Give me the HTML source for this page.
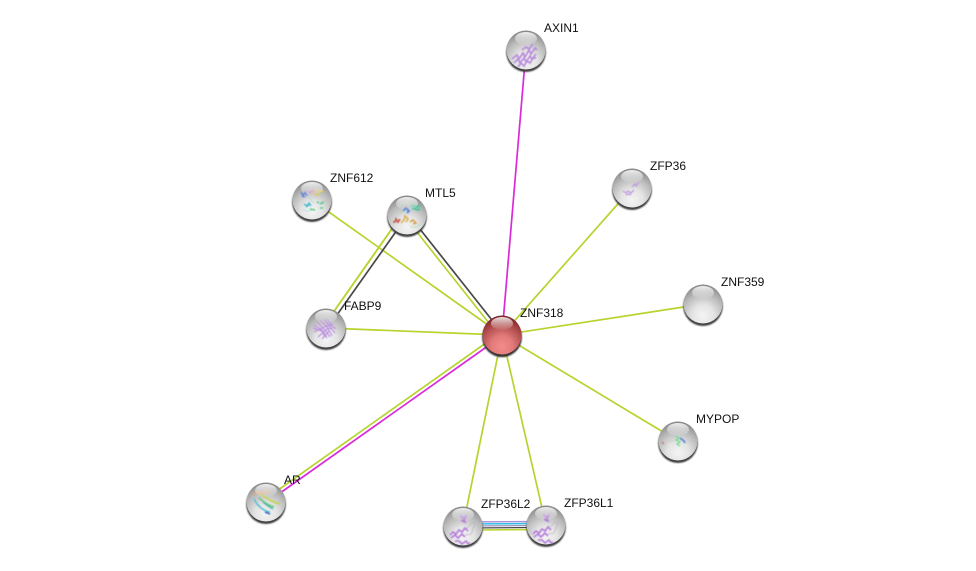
<!DOCTYPE html>
<html>
<head>
<meta charset="utf-8">
<style>
html,body{margin:0;padding:0;background:#fff;width:976px;height:571px;overflow:hidden}
svg{display:block}
text{font-family:"Liberation Sans",sans-serif;font-size:12px;fill:#111}
</style>
</head>
<body>
<svg width="976" height="571" viewBox="0 0 976 571" xmlns="http://www.w3.org/2000/svg">
<defs>
<radialGradient id="g" cx="50%" cy="80%" r="80%">
<stop offset="0" stop-color="#f4f4f4"/><stop offset=".35" stop-color="#e4e4e4"/><stop offset=".7" stop-color="#b8b8b8"/><stop offset="1" stop-color="#858585"/>
</radialGradient>
<radialGradient id="r" cx="50%" cy="80%" r="80%">
<stop offset="0" stop-color="#f58c8c"/><stop offset=".35" stop-color="#e27a7a"/><stop offset=".7" stop-color="#b04c4c"/><stop offset="1" stop-color="#7a1f24"/>
</radialGradient>
<linearGradient id="h" x1="0" y1="0" x2="0" y2="1">
<stop offset="0" stop-color="#fff" stop-opacity=".85"/><stop offset="1" stop-color="#fff" stop-opacity=".03"/>
</linearGradient>
<filter id="b" x="-30%" y="-30%" width="160%" height="160%"><feGaussianBlur stdDeviation=".9"/></filter>
<filter id="s" x="-20%" y="-20%" width="140%" height="140%"><feGaussianBlur stdDeviation=".5"/></filter>
<g id="node">
<circle cx="0" cy="2.2" r="19.8" fill="#3c3c3c" filter="url(#b)"/>
<circle cx="0" cy="0" r="19.5" fill="url(#g)"/>
</g>
<g id="hi"><ellipse cx="0" cy="-11.5" rx="11" ry="6.5" fill="url(#h)"/></g>
<g id="zfpl" filter="url(#s)" fill="none">
<path d="M-3 -11l3 3 3-2-2 4 1 2-3-1M-2 -6l3 1" stroke="#b47cdc" stroke-width="1.6"/>
<path d="M-13 9l3-3 3 2 3-4 3 2 3-4 3 3M-12 12l4-3 3 3 4-4 3 3M-8 15l4 0 3 3 4-3 2 3 2-1" stroke="#b47cdc" stroke-width="1.6"/>
<path d="M3 3c4-3 6-8 8-6 2 2-2 5-2 9-1 4-4 2-7 3" stroke="#b8aebc" stroke-width=".7"/>
</g>
</defs>

<g fill="none" stroke-width="1.7">
<line x1="526" y1="50" x2="502" y2="335" stroke="#d92ad9"/>
<line x1="632" y1="188" x2="502" y2="335" stroke="#b6d42e"/>
<line x1="703" y1="304" x2="502" y2="335" stroke="#b6d42e"/>
<line x1="678" y1="441" x2="502" y2="335" stroke="#b6d42e"/>
<line x1="546" y1="525" x2="502" y2="335" stroke="#b6d42e"/>
<line x1="463" y1="526" x2="502" y2="335" stroke="#b6d42e"/>
<line x1="312" y1="200" x2="502" y2="335" stroke="#b6d42e"/>
<line x1="326" y1="328" x2="502" y2="335" stroke="#b6d42e"/>
<line x1="405" y1="217" x2="500" y2="337" stroke="#b6d42e"/>
<line x1="408" y1="214" x2="503" y2="334" stroke="#484848"/>
<line x1="403" y1="213" x2="323" y2="327" stroke="#b6d42e" stroke-width="1.9"/>
<line x1="407" y1="216" x2="327" y2="329" stroke="#484848"/>
<line x1="264" y1="500" x2="500" y2="333" stroke="#b6d42e"/>
<line x1="266" y1="503" x2="502" y2="336" stroke="#d92ad9"/>
<line x1="463" y1="522" x2="546" y2="521.5" stroke="#a98fe0" stroke-width="1.4"/>
<line x1="463" y1="524" x2="546" y2="523.5" stroke="#2fc0e0" stroke-width="1.5"/>
<line x1="463" y1="526" x2="546" y2="525.5" stroke="#8a7ab8" stroke-width="1"/>
<line x1="463" y1="528" x2="546" y2="527.5" stroke="#222" stroke-width="1"/>
<line x1="463" y1="530" x2="546" y2="529.5" stroke="#b6d42e" stroke-width="1.5"/>
</g>

<!-- AXIN1 -->
<use href="#node" x="526" y="50"/>
<g filter="url(#s)" fill="none" stroke="#b88cdc" stroke-width="1.7">
<path d="M512 59l5-4 2 4 4-6 2 4 4-7 2 4 4-6 2 2M514 63l4-4 2 4 4-5 2 4 4-6 2 3 4-5M518 67l3-4 3 3 3-5 3 2 3-5 3 0M522 50l4-3 3 2 4-5"/>
</g>
<use href="#hi" x="526" y="50"/>

<!-- ZFP36 -->
<use href="#node" x="632" y="188"/>
<g filter="url(#s)" fill="none" stroke="#c09ce0" stroke-width="1.3">
<path d="M623 191l3 2 2-2 3 2 3-3M626 195l3-1 2 1M632 187l3-3 1 2 3-4"/>
</g>
<use href="#hi" x="632" y="188"/>

<!-- ZNF359 -->
<use href="#node" x="703" y="304"/>
<use href="#hi" x="703" y="304"/>

<!-- MYPOP -->
<use href="#node" x="678" y="441"/>
<g filter="url(#s)" fill="none" stroke-width="1.2">
<path d="M675 436l4 2-3 2 4 2-3 2 3 2" stroke="#6fdc8c"/>
<path d="M680 438l4 3 1 2" stroke="#5b7fd8" stroke-width="1.6"/>
<path d="M662 442l2 2" stroke="#d86060"/>
<path d="M665 441h10" stroke="#ccc" stroke-width=".7"/>
</g>
<use href="#hi" x="678" y="441"/>

<!-- ZFP36L1 -->
<use href="#node" x="546" y="525"/>
<use href="#zfpl" x="546" y="525"/>
<use href="#hi" x="546" y="525"/>

<!-- ZFP36L2 -->
<use href="#node" x="463" y="526"/>
<use href="#zfpl" x="463" y="526"/>
<use href="#hi" x="463" y="526"/>

<!-- AR -->
<use href="#node" x="266" y="502"/>
<g filter="url(#s)" fill="none" stroke-width="1.6">
<path d="M253 494l5-2 4 2 4-3 3 2" stroke="#e8a878"/>
<path d="M254 499l3 5 4 4 5 3 4 1" stroke="#58c0d8"/>
<path d="M260 494l5 3 5 3 6 3 4 1" stroke="#c4d448"/>
<path d="M259 498l5 4 5 3 5 2" stroke="#60c878"/>
<path d="M263 502l5 4 5 3" stroke="#58b8a8"/>
<path d="M265 512l5 2" stroke="#4068c8"/>
</g>
<use href="#hi" x="266" y="502"/>

<!-- FABP9 -->
<use href="#node" x="326" y="328"/>
<g filter="url(#s)" fill="none" stroke="#bd90e2" stroke-width="1.2">
<path d="M314 325l8 5 5 8M317 322l7 7 6 8M320 320l7 7 5 9M324 319l6 8 5 6M327 319l5 7 4 3M313 328l9 3 3 6M314 332l10-5 9-3M318 337l9-8 5-1M322 339l7-8"/>
</g>
<use href="#hi" x="326" y="328"/>

<!-- MTL5 -->
<use href="#node" x="407" y="215"/>
<g filter="url(#s)" fill="none" stroke-width="1.3">
<path d="M393 222h2l1-3 2 3 2-3" stroke="#c86050" stroke-width="1.8"/>
<path d="M401 223l3-3 1-4 3 3-2 3" stroke="#d8b048" stroke-width="1.5"/>
<path d="M410 222l3-2 3 3-3 1" stroke="#d8a048" stroke-width="1.5"/>
<path d="M403 211l3-3 3 3-2 2" stroke="#4f80d8" stroke-width="1.7"/>
<path d="M411 205l6 2 3-2M412 208l6 2 2-1" stroke="#38c8a0" stroke-width="1.7"/>
<path d="M397 208c4-6 10-6 14-4M410 226c3 2 8 1 10-2M398 216c2-4 3-5 6-5" stroke="#a8d8b0" stroke-width=".7"/>
</g>
<use href="#hi" x="407" y="215"/>

<!-- ZNF612 -->
<use href="#node" x="312" y="200"/>
<g filter="url(#s)" fill="none" stroke-width="1.3">
<path d="M301 192l2 4 2-4 2 4M302 196l3 1" stroke="#5a7fdc"/>
<path d="M307 190l3 3 2-3 2 3" stroke="#d888c0"/>
<path d="M313 193l4 2 4-4 3 1M315 190l5 1" stroke="#e0c850"/>
<path d="M304 204l3 2 2-3 2 3M306 207l3-2" stroke="#38b8c8"/>
<path d="M320 204l4-2M320 208l3 0M317 202l2 1" stroke="#38c880"/>
<path d="M310 209l5 1" stroke="#38c860"/>
<path d="M303 209c3 3 7 2 9 1M309 197c1 3 3 5 6 6" stroke="#a8dce0" stroke-width=".7"/>
</g>
<use href="#hi" x="312" y="200"/>

<!-- ZNF318 -->
<circle cx="502" cy="337.2" r="19.9" fill="#333" filter="url(#b)"/>
<circle cx="502" cy="335" r="19.5" fill="url(#r)"/>
<use href="#hi" x="502" y="335"/>

<text x="544" y="32">AXIN1</text>
<text x="650" y="170">ZFP36</text>
<text x="721" y="286">ZNF359</text>
<text x="696" y="423">MYPOP</text>
<text x="564" y="507">ZFP36L1</text>
<text x="481" y="508">ZFP36L2</text>
<text x="284" y="484">AR</text>
<text x="344" y="310">FABP9</text>
<text x="425" y="197">MTL5</text>
<text x="330" y="182">ZNF612</text>
<text x="520" y="317">ZNF318</text>
</svg>
</body>
</html>
